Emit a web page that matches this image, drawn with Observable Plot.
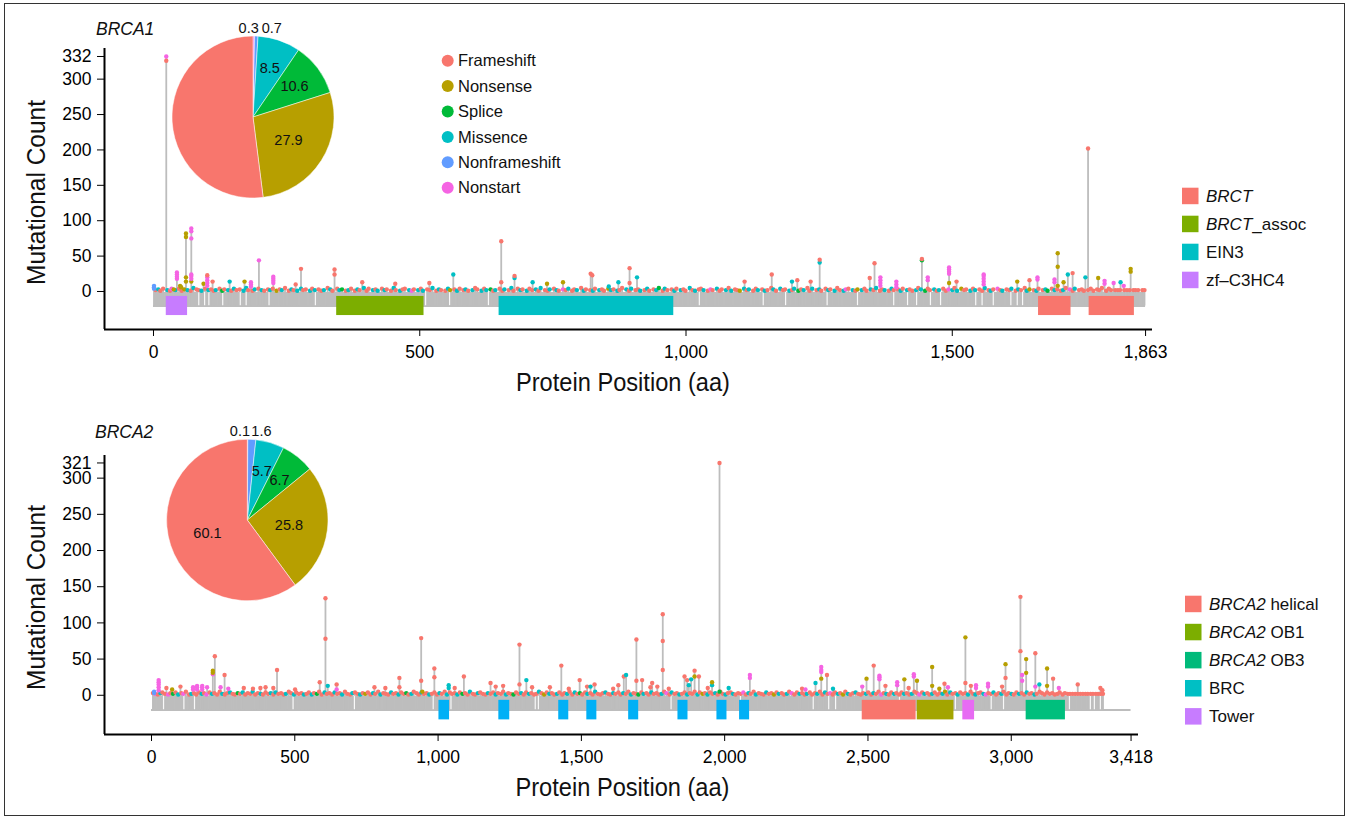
<!DOCTYPE html>
<html><head><meta charset="utf-8">
<script src="https://cdn.jsdelivr.net/npm/d3@7"></script>
<script src="https://cdn.jsdelivr.net/npm/@observablehq/plot@0.6"></script>
<style>
body{margin:0;background:#fff;}
#fig{position:relative;width:1350px;height:819px;overflow:hidden;font-family:"Liberation Sans",Arial,sans-serif;}
#frame{position:absolute;left:4px;top:3px;width:1339px;height:811px;border:1.5px solid #333;}
#fig svg{position:absolute;left:0;}
</style></head><body><div id="fig"><div id="frame"></div></div>
<script>
// ---------- categories ----------
const typeNames = ["Frameshift","Nonsense","Splice","Missence","Nonframeshift","Nonstart"];
const typeCodes = ["F","N","S","M","B","P"];
const pieOrder = ["Nonstart","Nonframeshift","Missence","Splice","Nonsense","Frameshift"];

// ---------- BRCA1 ----------
const brca1Length = 1863;
const brca1XTicks = [0,500,1000,1500,1863];
const brca1YTicks = [0,50,100,150,200,250,300,332];
const brca1PieValues = [0.3,0.7,8.5,10.6,27.9,52.0];
const brca1PieLabels = ["0.3","0.7","8.5","10.6","27.9",""];
const brca1DomainNames = ["zf-C3HC4","BRCT_assoc","EIN3","BRCT","BRCT"];
const brca1DomainStart = [24,344,649,1662,1757];
const brca1DomainEnd = [64,508,977,1723,1842];
const brca1LegendNames = ["BRCT","BRCT_assoc","EIN3","zf-C3HC4"];
const brca1Peaks = [
[1,4,"B"],[1,6,"B"],[1,8,"B"],[24,326,"F"],[24,332,"P"],[34,4,"P"],[38,3,"N"],
[44,18,"P"],[44,21,"P"],[44,24,"P"],[44,27,"P"],[50,8,"N"],[52,6,"N"],
[61,14,"N"],[61,20,"N"],[61,77,"N"],[61,82,"N"],
[71,14,"N"],[71,18,"P"],[71,22,"P"],[71,24,"P"],[71,75,"P"],[71,85,"P"],[71,89,"P"],
[94,11,"N"],[101,8,"P"],[101,12,"P"],[101,16,"P"],[101,20,"P"],[101,23,"F"],
[111,14,"F"],[143,14,"M"],[171,14,"N"],[183,7,"P"],[183,10,"P"],[183,13,"P"],
[198,44,"P"],[225,12,"P"],[225,15,"P"],[225,18,"P"],[225,21,"P"],
[267,10,"F"],[277,32,"F"],[340,24,"F"],[340,31,"F"],[392,13,"F"],[454,11,"F"],[518,12,"F"],[563,24,"M"],
[653,13,"F"],[653,71,"F"],[678,19,"M"],[678,22,"F"],[712,13,"M"],[739,11,"N"],[769,13,"N"],
[821,25,"F"],[824,23,"F"],[855,7,"M"],[873,13,"M"],[894,12,"F"],[894,33,"F"],[908,20,"M"],
[1110,14,"F"],[1161,24,"F"],[1199,14,"M"],[1209,16,"F"],[1234,14,"F"],[1251,41,"M"],[1251,45,"F"],
[1345,19,"F"],[1354,40,"F"],[1365,8,"P"],[1365,12,"P"],[1365,16,"P"],[1365,20,"P"],
[1395,6,"P"],[1395,10,"P"],[1395,14,"P"],[1443,44,"S"],[1443,46,"F"],[1454,16,"P"],[1454,20,"P"],
[1494,12,"N"],[1494,25,"P"],[1494,28,"P"],[1494,31,"P"],[1494,34,"P"],[1508,14,"F"],
[1559,10,"P"],[1559,14,"P"],[1559,18,"P"],[1559,22,"P"],[1559,24,"P"],
[1622,14,"N"],[1645,16,"F"],[1660,17,"P"],[1660,20,"P"],[1692,13,"P"],[1692,17,"P"],
[1698,8,"N"],[1698,35,"N"],[1698,54,"N"],[1709,13,"N"],[1717,24,"M"],[1726,26,"F"],[1750,20,"M"],
[1755,202,"F"],[1774,19,"N"],[1786,11,"P"],[1786,15,"P"],[1803,12,"P"],[1816,13,"M"],[1822,8,"P"],
[1835,28,"N"],[1835,32,"N"]
];
const brca1BasePos = [4,9,13,18,26,31,35,41,48,53,58,64,70,75,81,85,90,97,103,108,113,117,124,129,133,140,146,151,156,162,169,174,178,186,190,197,203,208,215,219,224,231,237,241,247,254,259,263,270,277,281,286,294,298,303,310,315,320,327,332,336,345,349,354,361,366,371,378,383,387,395,400,404,412,417,421,429,434,438,446,451,455,463,468,472,480,485,489,497,502,506,514,519,524,531,536,540,548,553,557,565,570,575,582,586,591,599,604,608,616,621,625,633,638,642,650,655,659,667,672,676,684,689,693,701,706,711,718,723,727,735,740,744,752,757,761,769,774,779,786,790,795,803,808,812,820,825,829,837,842,846,854,859,864,871,875,880,888,893,897,905,910,914,922,927,931,939,944,949,956,960,965,973,978,982,990,995,999,1007,1012,1017,1024,1028,1033,1041,1046,1050,1058,1063,1067,1075,1080,1085,1092,1096,1101,1109,1114,1118,1126,1131,1135,1143,1148,1153,1160,1164,1169,1177,1182,1186,1194,1199,1203,1211,1216,1221,1228,1232,1237,1245,1250,1254,1262,1267,1271,1279,1284,1289,1296,1300,1305,1313,1318,1322,1330,1335,1339,1347,1352,1357,1364,1368,1373,1381,1386,1390,1398,1403,1407,1415,1420,1425,1432,1436,1441,1449,1454,1458,1466,1471,1475,1483,1488,1493,1500,1504,1509,1517,1522,1526,1534,1539,1543,1551,1556,1561,1568,1572,1577,1585,1590,1594,1602,1607,1611,1619,1624,1629,1636,1640,1645,1653,1658,1662,1670,1675,1679,1687,1692,1697,1704,1708,1713,1721,1726,1730,1738,1743,1747,1755,1760,1765,1772,1776,1781,1789,1794,1798,1806,1811,1815,1823,1828,1833,1840,1844,1849,1857,1861];
const brca1BaseCount = "2314213241321532142312413214231521342132413251321423142312531423124132514231423152134213241325132142314231253142312413251423142315213421324132513214231423125314231241325142314231521342132413251321423142312531423124132514231423152134213241325132142314231253142312413251423142315213421324132513214231423125314231241325142";
const brca1BaseType = "FMFFMFPMFFNMFMFFMFMFFMFSFMFMFFMMFFMFMFFMFNFMFFMFMMFFMFMFFMFMFFMSFMFFMFMFFMFMFMFFMFMFFMPFMFMFFMFMFFMNFMFFMFMFFMFMSFMFFMFMFFMFMFFMFMFFMFMFPFMFFMFMFFMFMFFNMFMFFMFMFFMFMFFMSFMFFMFMFFMFMFFMFPFMFFMFMFFNMFMFFMFMFFMFMFFMFMSFMFFMFMFFMFMFFMPFMFNMFFMFMFFMFMFFMFMFFMFMSFFMFMFFPMFMNFFMFMFFMFMFPFMFFMFMFFMNFMFFMSFMFFMFPFMF";
const brca1Gaps = [85,96,104,130,163,174,217,304,511,556,629,1025,1145,1187,1265,1322,1390,1416,1433,1459,1478,1544,1556,1577,1610,1622,1632];

// ---------- BRCA2 ----------
const brca2Length = 3418;
const brca2XTicks = [0,500,1000,1500,2000,2500,3000,3418];
const brca2YTicks = [0,50,100,150,200,250,300,321];
const brca2PieValues = [0.1,1.6,5.7,6.7,25.8,60.1];
const brca2PieLabels = ["0.1","1.6","5.7","6.7","25.8","60.1"];
const brca2DomainNames = ["BRC","BRC","BRC","BRC","BRC","BRC","BRC","BRC","BRCA2 helical","BRCA2 OB1","Tower","BRCA2 OB3"];
const brca2DomainStart = [1003,1212,1421,1519,1665,1837,1973,2052,2480,2672,2831,3052];
const brca2DomainEnd = [1040,1250,1456,1554,1700,1872,2008,2087,2668,2800,2872,3189];
const brca2LegendNames = ["BRCA2 helical","BRCA2 OB1","BRCA2 OB3","BRC","Tower"];
const brca2Peaks = [
[9,3,"B"],[9,5,"B"],[25,7,"P"],[25,11,"P"],[25,15,"P"],[25,18,"P"],[25,21,"P"],[52,10,"F"],[72,8,"N"],[101,12,"F"],
[145,8,"P"],[145,11,"P"],[159,8,"P"],[159,11,"P"],[159,13,"P"],[177,8,"P"],[177,11,"P"],[177,13,"P"],[194,11,"P"],
[214,29,"P"],[214,31,"N"],[214,34,"N"],[221,54,"F"],[241,11,"P"],[255,28,"F"],[268,9,"P"],[322,10,"F"],[354,9,"F"],
[380,10,"F"],[398,11,"F"],[425,10,"F"],[438,35,"F"],[501,8,"F"],[587,18,"F"],[607,78,"F"],[607,134,"F"],[615,13,"M"],
[646,8,"P"],[646,15,"F"],[778,11,"F"],[816,10,"F"],[865,11,"F"],[865,24,"F"],[941,20,"F"],[941,79,"F"],[945,5,"N"],
[987,25,"F"],[987,37,"F"],[1037,10,"M"],[1037,14,"M"],[1058,10,"F"],[1090,26,"F"],[1183,17,"F"],[1201,12,"F"],[1227,13,"F"],
[1284,15,"F"],[1284,70,"F"],[1308,21,"M"],[1328,11,"F"],[1390,11,"F"],[1430,41,"F"],[1456,9,"F"],[1494,21,"F"],[1520,12,"F"],
[1532,12,"M"],[1546,15,"F"],[1611,9,"F"],[1629,14,"F"],[1648,26,"F"],[1656,28,"M"],[1692,20,"F"],[1692,77,"F"],[1712,21,"F"],
[1741,11,"F"],[1747,17,"F"],[1765,12,"F"],[1784,35,"F"],[1784,75,"F"],[1784,112,"F"],[1805,9,"F"],[1860,26,"F"],[1869,21,"F"],
[1875,14,"M"],[1883,22,"M"],[1895,26,"N"],[1895,34,"F"],[1910,26,"F"],[1941,10,"F"],[1956,14,"M"],[1956,18,"N"],
[1982,5,"S"],[1982,321,"F"],[2014,10,"M"],[2088,24,"P"],[2088,28,"P"],
[2270,9,"F"],[2282,8,"P"],[2317,17,"M"],[2337,23,"N"],[2337,32,"P"],[2337,35,"P"],[2337,39,"P"],[2357,28,"F"],[2378,9,"M"],
[2480,12,"P"],[2495,23,"N"],[2520,41,"F"],[2540,22,"P"],[2540,25,"P"],[2540,27,"P"],[2561,13,"F"],[2602,14,"P"],[2602,18,"P"],
[2627,22,"N"],[2642,10,"F"],[2660,26,"P"],[2660,29,"P"],[2671,20,"N"],[2724,13,"N"],[2724,39,"N"],[2749,9,"N"],[2767,16,"F"],
[2779,11,"P"],[2840,17,"F"],[2840,80,"N"],[2859,13,"F"],[2877,10,"P"],[2877,14,"P"],[2919,12,"P"],[2919,16,"P"],[2968,12,"F"],
[2980,24,"F"],[2980,43,"N"],[3032,61,"F"],[3032,136,"F"],[3038,20,"P"],[3038,28,"P"],[3052,31,"N"],[3052,50,"N"],
[3084,12,"P"],[3084,58,"F"],[3098,15,"M"],[3125,13,"N"],[3125,37,"N"],[3146,23,"F"],[3166,10,"P"],[3232,15,"F"],[3311,10,"F"],[3318,7,"F"]
];
const brca2BasePos = [5,14,22,31,38,47,58,66,75,84,93,104,111,120,131,139,148,156,166,175,183,192,203,211,219,229,238,247,256,264,274,283,291,301,309,318,327,336,345,353,362,371,381,389,398,407,416,425,433,443,452,461,469,479,487,497,505,514,523,532,541,549,559,567,577,585,594,604,612,621,630,639,648,657,665,675,683,693,701,710,719,728,737,746,755,764,773,781,791,799,809,817,826,836,844,853,862,871,880,889,897,907,915,925,933,942,951,960,969,978,987,996,1005,1013,1023,1031,1041,1049,1058,1067,1076,1085,1094,1103,1111,1121,1129,1139,1147,1156,1165,1174,1183,1192,1201,1209,1219,1227,1237,1245,1254,1263,1272,1281,1290,1299,1307,1317,1325,1335,1343,1352,1361,1370,1379,1388,1397,1405,1415,1423,1433,1441,1450,1459,1468,1477,1486,1495,1503,1513,1521,1531,1539,1548,1557,1566,1575,1584,1593,1601,1611,1619,1629,1637,1646,1655,1664,1673,1682,1691,1699,1709,1717,1727,1735,1744,1753,1762,1771,1780,1789,1797,1807,1815,1825,1833,1842,1851,1860,1869,1878,1887,1895,1905,1913,1923,1931,1940,1949,1958,1967,1976,1985,1993,2003,2011,2021,2029,2038,2047,2056,2065,2074,2083,2091,2101,2109,2119,2127,2136,2145,2154,2163,2172,2181,2189,2199,2207,2217,2225,2234,2243,2252,2261,2270,2279,2287,2297,2305,2315,2323,2332,2341,2350,2359,2368,2377,2385,2395,2403,2413,2421,2430,2439,2448,2457,2466,2475,2483,2493,2501,2511,2519,2528,2537,2546,2555,2564,2573,2581,2591,2599,2609,2617,2626,2635,2644,2653,2662,2671,2679,2689,2697,2707,2715,2724,2733,2742,2751,2760,2769,2777,2787,2795,2805,2813,2822,2831,2840,2849,2858,2867,2875,2885,2893,2903,2911,2920,2929,2938,2947,2956,2965,2973,2983,2991,3001,3009,3018,3027,3036,3045,3054,3063,3071,3081,3089,3099,3107,3116,3125,3134,3143,3152,3161,3169,3179,3187,3197,3205,3214,3223,3232,3241,3250,3259,3267,3277,3285,3295,3303,3312,3320];
const brca2BaseCount = "3213421324132512314231423152134213241325132142314231253142312413251423142315213421324132513214231423125314231241325142314231521342132413251321423142312531423124132514231423152134213241325132142314231253142312413251423142315213421324132513214231423125314231241325142314231521342132413251321423142312531423124132514231423152134213241325132142314231253142312413";
const brca2BaseType = "FPFMFFPFSFMFPFFMFFFMFPFMFFFMFFMFFSFMFFFMFFMFFFMFMFFFMFFMFFFMFFMFSFFMFFFMFFMFFFMFFMFNFFMFFMFFFMFFMFFSFMFFFMFFMFFFMFFMFFFMFSFFMFFMFFFMFFMFFFMFFSFFMFFMFFFMFNFMFFMFFFMFFMFSFFMFFMFFFMFFMFFFMFFMFFSFMFFMFFFMFPFMFFMFFMFFFMFNFMFFMFFFMFFMFFFPFMFFMFFFMFFNFMFFMFPFFMFFMFFFMFFMFPFFMFNFMFFMFFFMFFMFFPFMFFMFFFMFFMFFPFMFFMFFFMNFMFFMFFFMFFMFFMPFFMFFMFFFMFFMFFMFFMFF";
const brca2Gaps = [42,113,150,494,708,983,1045,1339,1350,1813,2055,2309,2363,2387,2610,2805,2930,2973,3203,3276,3290,3311];

// ---------- styles ----------
const typeColor = {F:"#F8766D",N:"#B79F00",S:"#00BA38",M:"#00BFC4",B:"#619CFF",P:"#F564E3"};
const nameColor = {Frameshift:"#F8766D",Nonsense:"#B79F00",Splice:"#00BA38",Missence:"#00BFC4",Nonframeshift:"#619CFF",Nonstart:"#F564E3"};
const brca1DomainFill = {"BRCT":"#F8766D","BRCT_assoc":"#7CAE00","EIN3":"#00BFC4","zf-C3HC4":"#C77CFF"};
const brca1LegendFill = ["#F8766D","#7CAE00","#00BFC4","#C77CFF"];
const brca2DomainFill = {"BRCA2 helical":"#F8766D","BRCA2 OB1":"#A3A500","BRCA2 OB3":"#00BF7D","BRC":"#00B0F6","Tower":"#E76BF3"};
const brca2LegendFill = ["#F8766D","#7CAE00","#00BA7A","#00BFC4","#C77CFF"];
const trackTop = -1.4, trackBottom = -20.5, domTop = -7, domBottom = -34;
const FONT = "'Liberation Sans', Arial, Helvetica, sans-serif";

function buildMuts(peaks, basePos, baseCount, baseType) {
  const m = basePos.map((p, i) => ({pos: p, count: +(baseCount[i] || 2), type: baseType[i] || "F"}));
  return m.concat(peaks.map(([pos, count, type]) => ({pos, count, type})));
}

function panel(cfg) {
  const muts = buildMuts(cfg.peaks, cfg.basePos, cfg.baseCount, cfg.baseType);
  const stems = d3.rollups(muts, v => d3.max(v, d => d.count), d => d.pos).map(([pos, max]) => ({pos, max}));
  const barStart = d3.min(muts, d => d.pos), barEnd = d3.max(muts, d => d.pos);
  const domains = cfg.domNames.map((n, i) => ({name: n, start: cfg.domStart[i], end: cfg.domEnd[i]}));
  const [x0, x1] = cfg.xDomain, [y0, y1] = cfg.yDomain;
  const svg = Plot.plot({
    width: 1350, height: cfg.height,
    marginLeft: 104, marginRight: cfg.marginRight, marginTop: cfg.marginTop, marginBottom: cfg.marginBottom,
    x: {domain: cfg.xDomain}, y: {domain: cfg.yDomain},
    color: {type: "identity"},
    style: {fontFamily: FONT, fontSize: "17.5px", background: "transparent", color: "black", overflow: "visible", maxWidth: "none"},
    marks: [
      Plot.ruleY([trackBottom], {x1: 0, x2: cfg.length, stroke: "#bdbdbd", strokeWidth: 2}),
      Plot.rect([{a: barStart, b: barEnd}], {x1: "a", x2: "b", y1: trackBottom, y2: trackTop, fill: "#bebebe"}),
      Plot.ruleX(stems, {x: "pos", y1: trackBottom, y2: "max", stroke: "#bdbdbd", strokeWidth: 1.8}),
      Plot.ruleX(cfg.gaps, {x: d => d, y1: trackBottom + 0.5, y2: trackTop, stroke: "white", strokeWidth: 1.2, strokeOpacity: 0.9}),
      Plot.rect(domains, {x1: "start", x2: "end", y1: domBottom, y2: domTop, fill: d => cfg.domFill[d.name]}),
      Plot.dot(muts, {x: "pos", y: "count", r: 2.2, fill: d => typeColor[d.type]}),
      Plot.ruleX([x0], {y1: y0, y2: y1, stroke: "black", strokeWidth: 2}),
      Plot.ruleY([y0], {x1: x0, x2: x1, stroke: "black", strokeWidth: 2}),
      Plot.axisY({ticks: cfg.yTicks, tickSize: 7, tickPadding: 6, label: null, tickFormat: d3.format("d")}),
      Plot.axisX({ticks: cfg.xTicks, tickSize: 7, tickPadding: 9, label: null, tickFormat: d3.format(",")})
    ]
  });
  svg.style.top = cfg.top + "px";
  document.getElementById("fig").appendChild(svg);
}

panel({top: 0, height: 400, marginTop: 48, marginBottom: 71, marginRight: 198,
  xDomain: [-92, 1876], yDomain: [-53.7, 343.3], xTicks: brca1XTicks, yTicks: brca1YTicks, length: brca1Length,
  peaks: brca1Peaks, basePos: brca1BasePos, baseCount: brca1BaseCount, baseType: brca1BaseType, gaps: brca1Gaps,
  domNames: brca1DomainNames, domStart: brca1DomainStart, domEnd: brca1DomainEnd, domFill: brca1DomainFill});
panel({top: 400, height: 419, marginTop: 55, marginBottom: 85, marginRight: 212,
  xDomain: [-164, 3444], yDomain: [-54.2, 331.3], xTicks: brca2XTicks, yTicks: brca2YTicks, length: brca2Length,
  peaks: brca2Peaks, basePos: brca2BasePos, baseCount: brca2BaseCount, baseType: brca2BaseType, gaps: brca2Gaps,
  domNames: brca2DomainNames, domStart: brca2DomainStart, domEnd: brca2DomainEnd, domFill: brca2DomainFill});

// ---------- overlay: pies, legends, titles ----------
const ov = d3.select("#fig").append("svg").attr("width", 1350).attr("height", 819)
  .style("top", "0px").style("font-family", FONT).style("pointer-events", "none");

function drawPie(cx, cy, r, values, labels, smallDx) {
  const arcs = d3.pie().sort(null).value(d => d)(values);
  const arc = d3.arc().innerRadius(0).outerRadius(r);
  const g = ov.append("g").attr("transform", `translate(${cx},${cy})`);
  g.selectAll("path").data(arcs).join("path").attr("d", arc)
    .attr("fill", (d, i) => nameColor[pieOrder[i]]).attr("stroke", "white").attr("stroke-width", 0.5);
  let small = 0;
  arcs.forEach((a, i) => {
    if (!labels[i]) return;
    const mid = (a.startAngle + a.endAngle) / 2;
    const v = values[i];
    let rr, anchor = "middle", dx = 0;
    if (v < 2) { rr = 1.1 * r; anchor = small === 0 ? "end" : "start"; dx = smallDx[small]; small++; }
    else rr = (v > 20 ? 0.52 : 0.64) * r;
    g.append("text").attr("x", rr * Math.sin(mid) + dx).attr("y", -rr * Math.cos(mid)).attr("dy", "0.35em")
      .attr("text-anchor", anchor).attr("font-size", 14.5).attr("fill", "#111").text(labels[i]);
  });
}
drawPie(253, 117, 81, brca1PieValues, brca1PieLabels, [4.9, 5.1]);
drawPie(247.3, 520, 80.7, brca2PieValues, brca2PieLabels, [2.4, -1.0]);

// mutation type legend
typeNames.forEach((n, i) => {
  const cy = 60.7 + i * 25.4;
  ov.append("circle").attr("cx", 447.7).attr("cy", cy).attr("r", 6).attr("fill", nameColor[n]);
  ov.append("text").attr("x", 458).attr("y", cy).attr("dy", "0.35em").attr("font-size", 16.5).attr("fill", "#111").text(n);
});

function italicFirst(textSel, name, italicWord) {
  if (name.startsWith(italicWord)) {
    textSel.append("tspan").attr("font-style", "italic").text(italicWord);
    const rest = name.slice(italicWord.length);
    if (rest) textSel.append("tspan").text(rest);
  } else textSel.text(name);
}
function domainLegend(names, fills, x0, y0, step, italicWord, display) {
  names.forEach((n, i) => {
    const cy = y0 + i * step;
    ov.append("rect").attr("x", x0).attr("y", cy - 8.3).attr("width", 16.5).attr("height", 16.5).attr("fill", fills[i]);
    const t = ov.append("text").attr("x", x0 + 24).attr("y", cy).attr("dy", "0.35em").attr("font-size", 17).attr("fill", "#111");
    italicFirst(t, display ? display(n) : n, italicWord);
  });
}
domainLegend(brca1LegendNames, brca1LegendFill, 1182, 196, 28, "BRCT", n => n.replace("zf-", "zf\u2013"));
domainLegend(brca2LegendNames, brca2LegendFill, 1185, 604, 28.1, "BRCA2");

// titles
ov.append("text").attr("x", 96).attr("y", 35).attr("font-size", 17.5).attr("font-style", "italic").attr("fill", "#111").text("BRCA1");
ov.append("text").attr("x", 95).attr("y", 438).attr("font-size", 17.5).attr("font-style", "italic").attr("fill", "#111").text("BRCA2");
[[192.5], [597.5]].forEach(([cy]) => {
  ov.append("text").attr("transform", `translate(45,${cy}) rotate(-90)`).attr("text-anchor", "middle")
    .attr("font-size", 25).attr("textLength", 185).attr("lengthAdjust", "spacingAndGlyphs").attr("fill", "#111").text("Mutational Count");
});
[[623, 391], [622.5, 796]].forEach(([cx, by]) => {
  ov.append("text").attr("x", cx).attr("y", by).attr("text-anchor", "middle")
    .attr("font-size", 25).attr("textLength", 214).attr("lengthAdjust", "spacingAndGlyphs").attr("fill", "#111").text("Protein Position (aa)");
});
</script>
</body></html>
